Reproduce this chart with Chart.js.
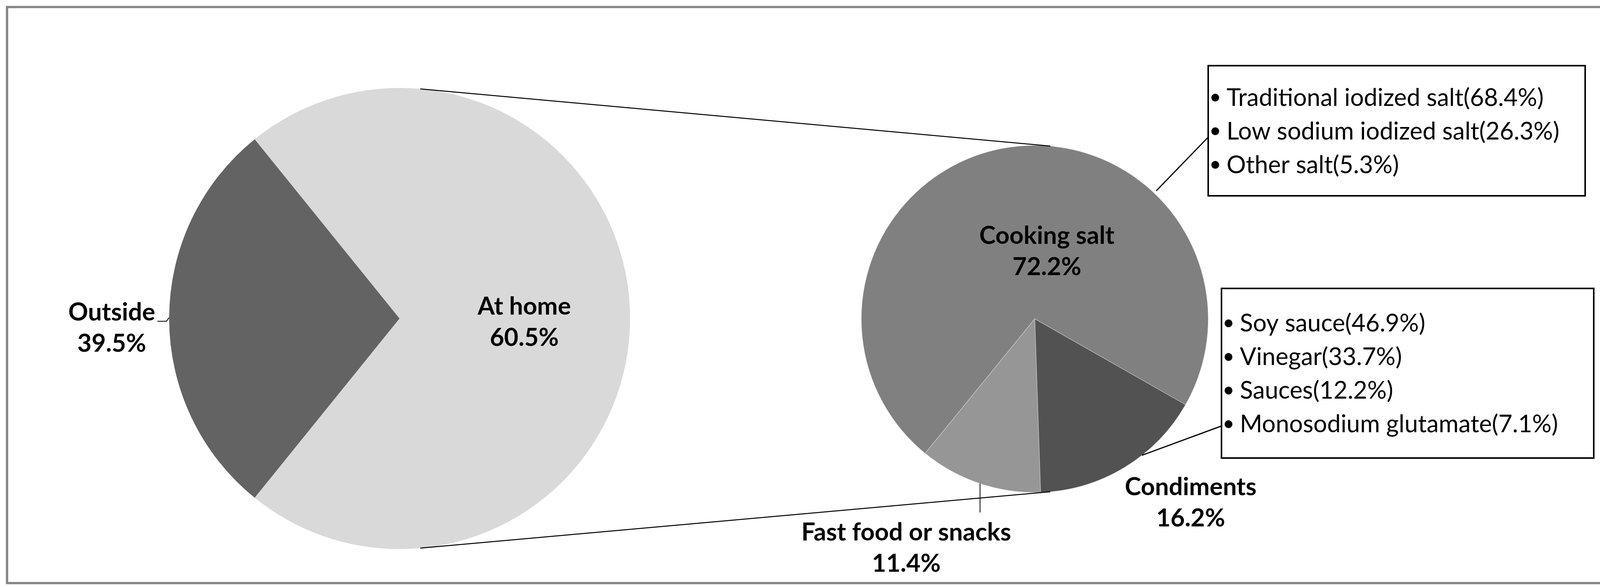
<!DOCTYPE html>
<html>
<head>
<meta charset="utf-8">
<title>Sources of salt intake</title>
<script src="https://cdn.jsdelivr.net/npm/chart.js@4.4.1/dist/chart.umd.min.js"></script>
<style>
  html, body { margin: 0; padding: 0; background: #fff; }
  #wrap { position: relative; width: 4133px; height: 1502px; }
  #wrap canvas { position: absolute; left: 0; top: 0; }
</style>
</head>
<body>
<div id="wrap">
  <canvas id="pie-main" width="4133" height="1502"></canvas>
  <canvas id="pie-home" width="4133" height="1502"></canvas>
</div>
<script>
// data
const mainLabels = ['Outside', 'At home'];
const mainShares = [39.5, 60.5];

const homeLabels = ['Cooking salt', 'Condiments', 'Fast food or snacks'];
const homeShares = [72.2, 16.2, 11.4];

const saltTypes = ['Traditional iodized salt', 'Low sodium iodized salt', 'Other salt'];
const saltShares = [68.4, 26.3, 5.3];

const condimentTypes = ['Soy sauce', 'Vinegar', 'Sauces', 'Monosodium glutamate'];
const condimentShares = [46.9, 33.7, 12.2, 7.1];

// pie-of-pie: the "At home" slice of the first pie is the sum of the second pie
const homeTotal = homeShares.reduce((a, b) => a + b, 0);

const FONT = 'Lato, "Open Sans", sans-serif';
const LABEL_SIZE = 63;
const BOX_SIZE = 62;

// label anchors (first baseline), in radius units from the pie centre
const mainLabelPos = [[-1.249, 0.008], [0.541, -0.017]];
const homeLabelPos = [[0.070, -0.432], [0.899, 1.016], [-0.741, 1.277]];

const box1 = { x: 3093, y: 168, w: 965, h: 333 };
const box2 = { x: 3127, y: 738, w: 953, h: 434 };

function pieGeom(chart) {
    const arc = chart.getDatasetMeta(0).data[0];
    return { x: arc.x, y: arc.y, r: arc.outerRadius };
}

// angle in degrees, clockwise from 12 o'clock
function edgePoint(p, deg, extra) {
    const a = (deg - 90) * Math.PI / 180;
    const r = p.r + (extra || 0);
    return { x: p.x + r * Math.cos(a), y: p.y + r * Math.sin(a) };
}

function line(ctx, pts, width) {
    ctx.save();
    ctx.strokeStyle = '#000';
    ctx.lineWidth = width || 2;
    ctx.beginPath();
    ctx.moveTo(pts[0].x, pts[0].y);
    for (let i = 1; i < pts.length; i++) ctx.lineTo(pts[i].x, pts[i].y);
    ctx.stroke();
    ctx.restore();
}

function sliceLabel(ctx, p, pos, name, share) {
    ctx.save();
    ctx.fillStyle = '#000';
    ctx.font = 'bold ' + LABEL_SIZE + 'px ' + FONT;
    ctx.textAlign = 'center';
    ctx.textBaseline = 'alphabetic';
    const x = p.x + pos[0] * p.r;
    const y = p.y + pos[1] * p.r;
    ctx.fillText(name, x, y);
    ctx.fillText(share.toFixed(1) + '%', x, y + 80);
    ctx.restore();
}

function bulletBox(ctx, box, names, shares) {
    ctx.save();
    ctx.fillStyle = '#fff';
    ctx.fillRect(box.x, box.y, box.w, box.h);
    ctx.strokeStyle = '#000';
    ctx.lineWidth = 4;
    ctx.strokeRect(box.x, box.y, box.w, box.h);

    const pitch = 86;
    const cap = BOX_SIZE * 0.36;
    const first = box.y + box.h / 2 - (names.length - 1) * pitch / 2 + cap;
    ctx.font = BOX_SIZE + 'px ' + FONT;
    ctx.textAlign = 'left';
    ctx.textBaseline = 'alphabetic';
    ctx.fillStyle = '#000';
    names.forEach((n, i) => {
        const y = first + i * pitch;
        ctx.beginPath();
        ctx.arc(box.x + 18, y - 21, 10, 0, Math.PI * 2);
        ctx.fill();
        ctx.fillText(n + '(' + shares[i].toFixed(1) + '%)', box.x + 47, y);
    });
    ctx.restore();
}

// 1. main pie (background, frame, labels)
const framePlugin = {
    id: 'frame',
    beforeDraw(chart) {
        const ctx = chart.ctx;
        ctx.save();
        ctx.fillStyle = '#fff';
        ctx.fillRect(0, 0, chart.width, chart.height);
        ctx.strokeStyle = '#898989';
        ctx.lineWidth = 6;
        ctx.strokeRect(18, 18, chart.width - 36, chart.height - 28);
        ctx.restore();
    }
};

const mainLabelPlugin = {
    id: 'mainLabels',
    afterDatasetsDraw(chart) {
        const ctx = chart.ctx;
        const p = pieGeom(chart);
        mainLabels.forEach((n, i) => sliceLabel(ctx, p, mainLabelPos[i], n, mainShares[i]));
        // small leader for "Outside"
        const e = edgePoint(p, 270.2);
        line(ctx, [e, { x: e.x - 7, y: e.y + 9 }, { x: e.x - 30, y: e.y + 9 }], 2);
    }
};

const mainChart = new Chart(document.getElementById('pie-main'), {
    type: 'pie',
    data: {
        labels: mainLabels,
        datasets: [{
            data: [mainShares[0], homeTotal],
            backgroundColor: ['#636363', '#d9d9d9'],
            borderWidth: 0
        }]
    },
    options: {
        responsive: false,
        animation: false,
        devicePixelRatio: 1,
        events: [],
        // turn the "other" slice to face the second pie
        rotation: 270 - 180 * mainShares[0] / (mainShares[0] + homeTotal),
        radius: 590,
        layout: { padding: { left: 423, right: 2510, top: 215, bottom: 87 } },
        plugins: { legend: { display: false }, tooltip: { enabled: false } }
    },
    plugins: [framePlugin, mainLabelPlugin]
});

// 2. second pie (at home breakdown)
const homeLabelPlugin = {
    id: 'homeLabels',
    afterDatasetsDraw(chart) {
        const ctx = chart.ctx;
        const p = pieGeom(chart);
        const m = pieGeom(mainChart);

        // connector lines: outer tangents of the two circles
        const phi = Math.asin((m.r - p.r) / (p.x - m.x)) * 180 / Math.PI;
        line(ctx, [edgePoint(m, phi), edgePoint(p, phi)], 2.5);
        line(ctx, [edgePoint(m, 180 - phi), edgePoint(p, 180 - phi)], 2.5);

        homeLabels.forEach((n, i) => sliceLabel(ctx, p, homeLabelPos[i], n, homeShares[i]));

        // leaders
        const f = edgePoint(p, 198.4);
        line(ctx, [f, { x: f.x, y: f.y + 74 }], 2);
        line(ctx, [edgePoint(p, 43.5, 8), { x: box1.x, y: 351 }], 3);
        line(ctx, [edgePoint(p, 141.8), { x: box2.x, y: 1090 }], 3);

        bulletBox(ctx, box1, saltTypes, saltShares);
        bulletBox(ctx, box2, condimentTypes, condimentShares);
    }
};

const homeChart = new Chart(document.getElementById('pie-home'), {
    type: 'pie',
    data: {
        labels: homeLabels,
        datasets: [{
            data: homeShares,
            backgroundColor: ['#808080', '#525252', '#969696'],
            borderColor: 'rgba(255,255,255,0.35)',
            borderWidth: 1.5
        }]
    },
    options: {
        responsive: false,
        animation: false,
        devicePixelRatio: 1,
        events: [],
        rotation: 219.2,
        radius: 444,
        layout: { padding: { left: 2199, right: 1034, top: 366, bottom: 236 } },
        plugins: { legend: { display: false }, tooltip: { enabled: false } }
    },
    plugins: [homeLabelPlugin]
});
</script>
</body>
</html>
